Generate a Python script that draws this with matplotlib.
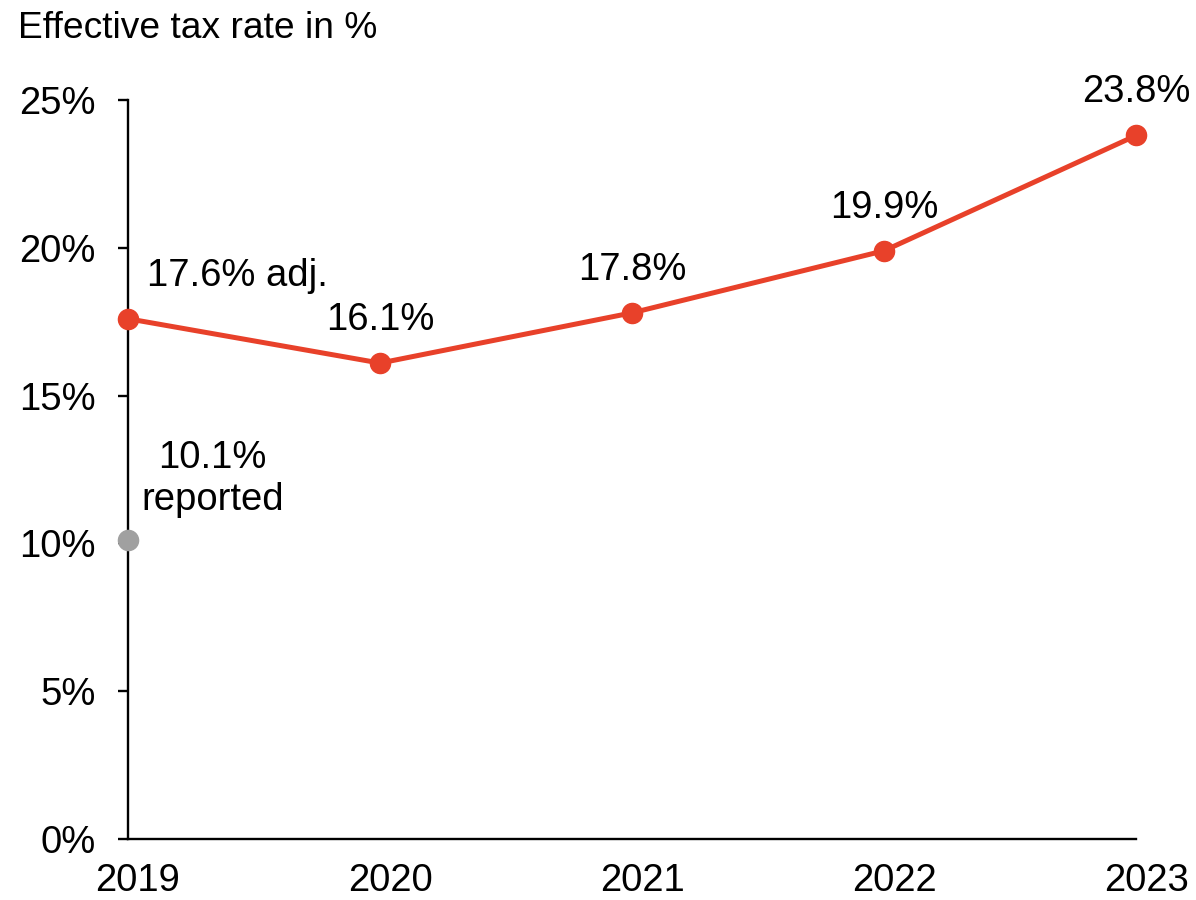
import matplotlib.pyplot as plt
import matplotlib.transforms as mtransforms

plt.rcParams['font.family'] = ['Liberation Sans', 'DejaVu Sans']

years = [2019, 2020, 2021, 2022, 2023]
tax_adj = [17.6, 16.1, 17.8, 19.9, 23.8]
labels_adj = ["17.6% adj.", "16.1%", "17.8%", "19.9%", "23.8%"]
reported_year = 2019
tax_reported = 10.1

red = "#E8412A"
grey = "#A0A0A0"
fs = 27.5

fig = plt.figure(figsize=(11.96, 9), dpi=100)
ax = fig.add_axes([0.107, 0.0678, 0.843, 0.8211])

ax.plot(years, tax_adj, color=red, lw=3.6, marker="o", ms=14.5,
        clip_on=False, zorder=3)
ax.plot([reported_year], [tax_reported], "o", color=grey, ms=14.5,
        clip_on=False, zorder=3)

ax.set_xlim(2019, 2023)
ax.set_ylim(0, 25)
ax.set_yticks([0, 5, 10, 15, 20, 25])
ax.set_yticklabels([f"{v}%" for v in [0, 5, 10, 15, 20, 25]])
ax.set_xticks(years)
ax.set_xticklabels([str(y) for y in years])

for s in ["top", "right"]:
    ax.spines[s].set_visible(False)
for s in ["left", "bottom"]:
    ax.spines[s].set_linewidth(1.7)
ax.tick_params(axis="y", length=7.5, width=1.7, pad=16, labelsize=fs)
ax.tick_params(axis="x", length=0, pad=17, labelsize=fs)

# year labels sit slightly right of their points
shift = mtransforms.ScaledTranslation(10 / 100, 0, fig.dpi_scale_trans)
for lbl in ax.get_xticklabels():
    lbl.set_transform(lbl.get_transform() + shift)

for i, (x, y, t) in enumerate(zip(years, tax_adj, labels_adj)):
    if i == 0:
        ax.annotate(t, (x, y), xytext=(14, 31), textcoords="offset points",
                    ha="left", va="center", fontsize=fs)
    else:
        ax.annotate(t, (x, y), xytext=(0, 31), textcoords="offset points",
                    ha="center", va="center", fontsize=fs)

ax.annotate(f"{tax_reported}%\nreported", (reported_year, tax_reported),
            xytext=(61, 44), textcoords="offset points", ha="center",
            va="center", fontsize=fs, multialignment="center",
            linespacing=1.22)

fig.text(18 / 1196, 1 - 28 / 900, "Effective tax rate in %", fontsize=26.7,
         ha="left", va="center")

fig.savefig("out.png", dpi=100)
